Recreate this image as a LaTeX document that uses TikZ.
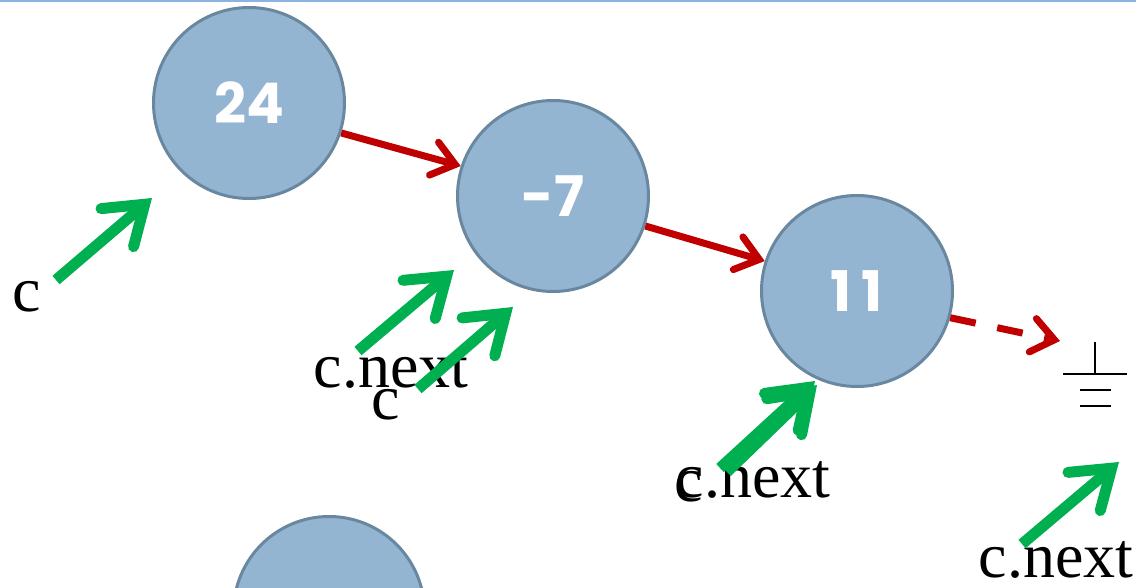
\documentclass[tikz,border=0pt]{standalone}
\usepackage{fontspec}
\setmainfont{Liberation Serif}
\newfontfamily\numfont{Poppins}
\usetikzlibrary{arrows.meta}
\definecolor{nodefill}{HTML}{94B5D2}
\definecolor{nodeedge}{HTML}{6A87A0}
\definecolor{linkred}{HTML}{C00000}
\definecolor{ptrgreen}{HTML}{00B050}
\definecolor{rulecol}{HTML}{8DB3E2}
\begin{document}
\begin{tikzpicture}[x=1pt,y=-1pt,
  listnode/.style={circle, fill=nodefill, draw=nodeedge, line width=3pt,
    minimum size=191pt, inner sep=0pt, text=white,
    font=\numfont\bfseries\fontsize{56}{56}\selectfont},
  link/.style={linkred, line width=7pt, line cap=butt,
    -{Straight Barb[length=22pt,width=34pt,line cap=round,line join=miter]}},
  ptr/.style={ptrgreen, line width=11pt, line cap=butt,
    -{Straight Barb[length=36pt,width=50pt,line cap=round,line join=miter]}},
  lbl/.style={inner sep=0pt, font=\fontsize{64}{64}\selectfont},
  gnd/.style={line width=2pt}]
\useasboundingbox (0,0) rectangle (1136,587);
\draw[rulecol, line width=2pt] (0,1) -- (1136,1);

% list nodes
\node[listnode] (n1) at (249,103) {24};
\node[listnode] (n2) at (553,196) {-7};
\node[listnode] (n3) at (857,291) {1\kern10pt1};
\node[listnode] (n4) at (329,612) {};

% ground symbol for null
\coordinate (g0) at (1095,342);
\coordinate (g1) at (1095,374);
\draw[gnd] (g0) -- (g1);
\draw[gnd] ([xshift=-32pt]g1) -- ([xshift=32pt]g1);
\draw[gnd] ([xshift=-15pt,yshift=-16pt]g1) -- ([xshift=16pt,yshift=-16pt]g1);
\draw[gnd] ([xshift=-15pt,yshift=-32pt]g1) -- ([xshift=16pt,yshift=-32pt]g1);
\coordinate (nulltip) at (1060,341);

% next links
\draw[link] (n1.-18) -- (n2.162);
\draw[link] (n2.-18) -- (n3.162);
\draw[link, dash pattern=on 26pt off 22pt] (n3.-16) -- (nulltip);

% pointer labels
\node[lbl] (l1) at (27,297) {c};
\node[lbl] (l2) at (391,370) {c.next};
\node[lbl] (l3) at (386,405) {c};
\node[lbl] (l4) at (753,480) {c.next};
\node[lbl] (l5) at (689,487) {c};
\node[lbl] (l6) at (1056,560) {c.next};

% pointer arrows
\coordinate (a1s) at (56,280);  \coordinate (a1e) at (152,198);
\coordinate (a2s) at (358,351); \coordinate (a2e) at (454,270);
\coordinate (a3s) at (418,389); \coordinate (a3e) at (513,307);
\coordinate (a4s) at (720,468); \coordinate (a4e) at (815,381);
\coordinate (a5s) at (727,472); \coordinate (a5e) at (817,385);
\coordinate (a6s) at (1022,544); \coordinate (a6e) at (1119,462);
\draw[ptr] (a1s) -- (a1e);
\draw[ptr] (a2s) -- (a2e);
\draw[ptr] (a3s) -- (a3e);
\draw[ptr] (a4s) -- (a4e);
\draw[ptr] (a5s) -- (a5e);
\draw[ptr] (a6s) -- (a6e);
\end{tikzpicture}
\end{document}
